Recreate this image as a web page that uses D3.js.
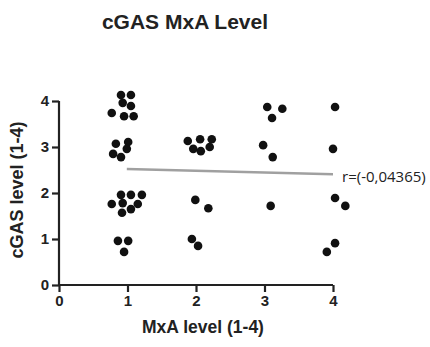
<!DOCTYPE html>
<html>
<head>
<meta charset="utf-8">
<script src="https://cdn.jsdelivr.net/npm/d3@7"></script>
<style>
  body { margin: 0; background: #fff; }
  svg text { font-family: "Liberation Sans", Arial, sans-serif; }
</style>
</head>
<body>
<div id="chart"></div>
<script>
// values
var mxa = [0.905, 1.05, 0.93, 1.05, 0.77, 0.95, 1.09, 0.83, 1.01, 0.99, 0.79, 0.905,
           0.905, 1.05, 1.21, 0.77, 0.93, 1.15, 1.05, 0.92, 0.86, 1.01, 0.95,
           1.88, 2.06, 2.23, 1.96, 2.07, 2.20, 1.99, 2.18, 1.94, 2.03,
           3.04, 3.26, 3.11, 2.98, 3.12, 3.09,
           4.03, 4.0, 4.03, 4.18, 4.03, 3.91];
var cgas = [4.13, 4.13, 3.96, 3.89, 3.74, 3.67, 3.67, 3.07, 3.11, 2.96, 2.85, 2.78,
            1.96, 1.96, 1.96, 1.76, 1.78, 1.76, 1.65, 1.57, 0.96, 0.96, 0.72,
            3.13, 3.17, 3.17, 2.96, 2.91, 3.00, 1.85, 1.67, 1.00, 0.85,
            3.87, 3.83, 3.63, 3.04, 2.78, 1.72,
            3.87, 2.96, 1.89, 1.72, 0.91, 0.72];
var fitX = [0.99, 4.0];
var fitY = [2.52, 2.41];
var xTicks = [0, 1, 2, 3, 4];
var yTicks = [0, 1, 2, 3, 4];
var rLabel = "r=(-0,04365)";

var width = 430, height = 347;
var svg = d3.select('#chart').append('svg').attr('width', width).attr('height', height);

var x = d3.scaleLinear().domain([0, 4]).range([59, 333]);
var y = d3.scaleLinear().domain([0, 4]).range([285, 101]);

// title
svg.append('text')
  .attr('x', 185).attr('y', 29)
  .attr('text-anchor', 'middle')
  .attr('font-size', 21).attr('font-weight', 'bold')
  .attr('fill', '#222')
  .text('cGAS MxA Level');

// axes
var xAxis = svg.append('g')
  .attr('transform', 'translate(0,' + y(0) + ')')
  .call(d3.axisBottom(x).tickValues(xTicks).tickSize(7).tickPadding(3).tickFormat(d3.format('d')));
var yAxis = svg.append('g')
  .attr('transform', 'translate(' + x(0) + ',0)')
  .call(d3.axisLeft(y).tickValues(yTicks).tickSize(7).tickPadding(3).tickFormat(d3.format('d')));

[xAxis, yAxis].forEach(function(a) {
  a.select('.domain').attr('stroke', '#222').attr('stroke-width', 2.2);
  a.selectAll('.tick line').attr('stroke', '#222').attr('stroke-width', 2.2);
  a.selectAll('.tick text')
    .attr('font-size', 15).attr('font-weight', 'bold').attr('fill', '#222')
    .style('font-family', '"Liberation Sans", Arial, sans-serif');
});
// remove outer ticks of the domain path
xAxis.select('.domain').attr('d', 'M' + x(0) + ',0H' + x(4));
yAxis.select('.domain').attr('d', 'M0,' + y(0) + 'V' + y(4));

// axis titles
svg.append('text')
  .attr('x', 203).attr('y', 333)
  .attr('text-anchor', 'middle')
  .attr('font-size', 17.5).attr('font-weight', 'bold').attr('fill', '#222')
  .text('MxA level (1-4)');
svg.append('text')
  .attr('transform', 'translate(23,' + 190 + ') rotate(-90)')
  .attr('text-anchor', 'middle')
  .attr('font-size', 18).attr('font-weight', 'bold').attr('fill', '#222')
  .text('cGAS level (1-4)');

// regression line
svg.append('line')
  .attr('x1', x(fitX[0])).attr('y1', y(fitY[0]))
  .attr('x2', x(fitX[1])).attr('y2', y(fitY[1]))
  .attr('stroke', '#a0a0a0').attr('stroke-width', 2.5);

// points
svg.append('g').selectAll('circle')
  .data(mxa)
  .enter().append('circle')
  .attr('cx', function(d) { return x(d); })
  .attr('cy', function(d, i) { return y(cgas[i]); })
  .attr('r', 4.3)
  .attr('fill', '#111');

// r annotation
svg.append('text')
  .attr('x', 342).attr('y', 182)
  .attr('font-size', 15).attr('fill', '#222')
  .style('font-family', '"Open Sans", "Noto Sans", sans-serif')
  .text(rLabel);
</script>
</body>
</html>
